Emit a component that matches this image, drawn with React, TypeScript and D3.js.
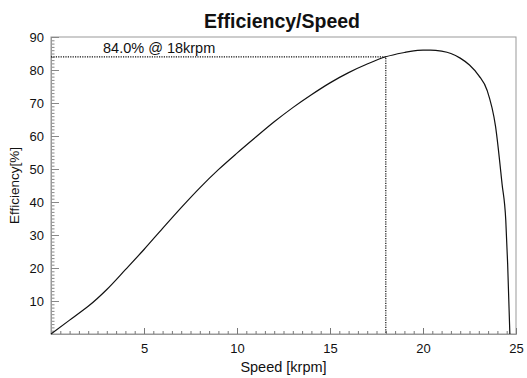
import { useEffect, useRef } from 'react';
import { select, scaleLinear, axisBottom, axisLeft, line, curveMonotoneX, range } from 'd3';

// speed [krpm] vs efficiency [%]
const speed = [0, 1, 1.7, 2, 3, 4, 5, 6, 7, 8, 9, 10, 11, 12, 13, 14, 15, 16, 17, 18, 19, 19.5, 20, 20.4, 21, 21.5, 22, 22.5, 23, 23.45, 23.9, 24.25, 24.45, 24.55, 24.67];
const efficiency = [0, 4.2, 7.1, 8.4, 13.5, 19.5, 25.6, 32.0, 38.3, 44.3, 49.8, 54.8, 59.6, 64.3, 68.6, 72.5, 76.1, 79.2, 81.8, 84.0, 85.3, 85.8, 86.0, 86.05, 85.7, 85.0, 83.6, 81.5, 78.3, 73.8, 62.9, 45.5, 34.5, 21.4, 0];

const xTicks = [5, 10, 15, 20, 25];
const yTicks = [10, 20, 30, 40, 50, 60, 70, 80, 90];

const markSpeed = 18;
const markEff = 84.0;

const width = 527;
const height = 378;
const margin = { top: 37, right: 11, bottom: 44, left: 51 };

const App = () => {
  const ref = useRef<SVGSVGElement>(null);

  useEffect(() => {
    const svg = select(ref.current);
    svg.selectAll('*').remove();

    const x = scaleLinear().domain([0, 25]).range([margin.left, width - margin.right]);
    const y = scaleLinear().domain([0, 90]).range([height - margin.bottom, margin.top]);
    const font = '"Liberation Sans", Arial, sans-serif';

    // frame
    svg
      .append('rect')
      .attr('x', x(0))
      .attr('y', y(90))
      .attr('width', x(25) - x(0))
      .attr('height', y(0) - y(90))
      .attr('fill', 'none')
      .attr('stroke', '#999')
      .attr('stroke-width', 1);

    // minor ticks
    const xMinor = range(0.5, 25, 0.5).filter((v) => v % 5 !== 0);
    const yMinor = range(1, 90, 1).filter((v) => v % 10 !== 0);

    svg
      .append('g')
      .attr('transform', `translate(0, ${y(0)})`)
      .call(axisBottom(x).tickValues(xMinor).tickSize(-3).tickFormat(() => '') as any)
      .call((g) => g.select('.domain').remove())
      .call((g) => g.selectAll('.tick line').attr('stroke', '#777'));

    svg
      .append('g')
      .attr('transform', `translate(${x(0)}, 0)`)
      .call(axisLeft(y).tickValues(yMinor).tickSize(-3.5).tickFormat(() => '') as any)
      .call((g) => g.select('.domain').remove())
      .call((g) => g.selectAll('.tick line').attr('stroke', '#888'));

    // major ticks + labels
    svg
      .append('g')
      .attr('transform', `translate(0, ${y(0)})`)
      .call(axisBottom(x).tickValues(xTicks).tickSize(-6).tickPadding(10) as any)
      .call((g) => g.select('.domain').attr('stroke', '#999'))
      .call((g) => g.selectAll('.tick line').attr('stroke', '#777'))
      .call((g) => g.selectAll('.tick text').attr('font-family', font).attr('font-size', 13).attr('fill', '#111'));

    svg
      .append('g')
      .attr('transform', `translate(${x(0)}, 0)`)
      .call(axisLeft(y).tickValues(yTicks).tickSize(-8).tickPadding(7) as any)
      .call((g) => g.select('.domain').attr('stroke', '#999'))
      .call((g) => g.selectAll('.tick line').attr('stroke', '#888'))
      .call((g) => g.selectAll('.tick text').attr('font-family', font).attr('font-size', 13).attr('fill', '#111'));

    // marker lines at 18 krpm
    svg
      .append('path')
      .attr('d', `M${x(0)},${y(markEff)}H${x(markSpeed)}V${y(0)}`)
      .attr('fill', 'none')
      .attr('stroke', '#111')
      .attr('stroke-width', 1.2)
      .attr('stroke-dasharray', '1.2,1.2');

    // curve
    const pts = speed.map((s, i) => [s, efficiency[i]] as [number, number]);
    svg
      .append('path')
      .datum(pts)
      .attr('fill', 'none')
      .attr('stroke', '#111')
      .attr('stroke-width', 1.2)
      .attr(
        'd',
        line<[number, number]>()
          .x((d) => x(d[0]))
          .y((d) => y(d[1]))
          .curve(curveMonotoneX),
      );

    svg
      .append('text')
      .attr('x', 103)
      .attr('y', y(markEff) - 4.3)
      .attr('font-family', font)
      .attr('font-size', 14.5)
      .attr('fill', '#111')
      .text(`${markEff.toFixed(1)}% @ ${markSpeed}krpm`);

    svg
      .append('text')
      .attr('x', 282)
      .attr('y', 28.3)
      .attr('text-anchor', 'middle')
      .attr('font-family', font)
      .attr('font-size', 19.5)
      .attr('font-weight', 'bold')
      .attr('fill', '#111')
      .text('Efficiency/Speed');

    svg
      .append('text')
      .attr('x', (x(0) + x(25)) / 2)
      .attr('y', 372)
      .attr('text-anchor', 'middle')
      .attr('font-family', font)
      .attr('font-size', 14.5)
      .attr('fill', '#111')
      .text('Speed [krpm]');

    svg
      .append('text')
      .attr('transform', `translate(18.5, ${(y(0) + y(90)) / 2}) rotate(-90)`)
      .attr('text-anchor', 'middle')
      .attr('font-family', font)
      .attr('font-size', 13.5)
      .attr('fill', '#111')
      .text('Efficiency[%]');
  }, []);

  return (
    <svg
      ref={ref}
      width={width}
      height={height}
      style={{ position: 'absolute', left: 0, top: 0, background: 'white' }}
    />
  );
};

export default App;
